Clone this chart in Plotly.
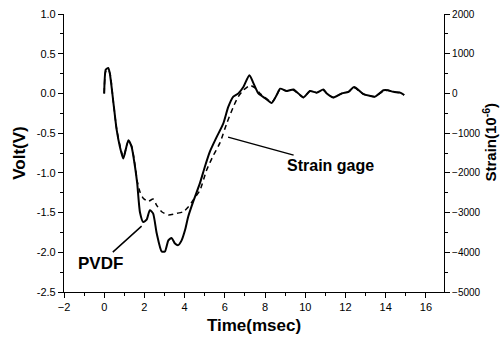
import plotly.graph_objects as go

# PVDF sensor output (Volt)
pvdf_t = [0.0, 0.08, 0.2, 0.28, 0.45, 0.62, 0.78, 0.95, 1.2, 1.36, 1.53, 1.64, 1.78, 1.94, 2.11, 2.27,
          2.43, 2.61, 2.86, 3.02, 3.19, 3.35, 3.52, 3.68, 3.85, 4.02, 4.18, 4.43, 4.76, 5.01, 5.26,
          5.59, 5.92, 6.17, 6.42, 6.67, 6.92, 7.22, 7.42, 7.67, 8.0, 8.33, 8.58, 8.75, 9.08, 9.41,
          9.74, 9.91, 10.24, 10.57, 10.9, 11.07, 11.4, 11.82, 12.15, 12.43, 12.9, 13.2, 13.47,
          13.89, 14.1, 14.38, 14.72, 14.92]
pvdf_v = [0.0, 0.30, 0.32, 0.25, -0.10, -0.46, -0.67, -0.82, -0.59, -0.67, -0.92, -1.13, -1.50, -1.62,
          -1.59, -1.47, -1.51, -1.76, -1.99, -1.99, -1.85, -1.82, -1.89, -1.91, -1.85, -1.72, -1.55,
          -1.36, -1.13, -0.92, -0.73, -0.55, -0.38, -0.17, -0.04, 0.0, 0.08, 0.23, 0.13, 0.0, -0.06,
          -0.12, -0.02, 0.06, 0.03, 0.05, -0.02, -0.05, 0.03, 0.01, 0.05, 0.0, -0.05, 0.0, 0.02,
          0.08, -0.01, -0.03, -0.04, 0.04, 0.04, 0.02, 0.01, -0.02]

# Strain gage (micro-strain)
gage_t = [0.0, 0.08, 0.2, 0.3, 0.45, 0.62, 0.78, 0.95, 1.2, 1.36, 1.53, 1.64, 1.78, 1.94, 2.19, 2.43,
          2.61, 2.86, 3.19, 3.6, 3.93, 4.18, 4.43, 4.76, 5.1, 5.43, 5.76, 6.09, 6.42, 6.67, 6.92,
          7.25, 7.5, 7.75, 8.0, 8.33, 8.58, 8.75, 9.08, 9.41, 9.74, 9.91, 10.24, 10.57, 10.9,
          11.07, 11.4, 11.82, 12.15, 12.43, 12.9, 13.2, 13.47, 13.89, 14.1, 14.38, 14.72, 14.92]
gage_s = [0, 560, 600, 480, -200, -900, -1300, -1600, -1200, -1320, -1800, -2200, -2480, -2640,
          -2720, -2660, -2820, -2980, -3060, -3020, -2980, -2860, -2680, -2440, -1920, -1560,
          -1240, -760, -340, -80, 80, 200, 140, 0, -100, -220, -40, 100, 60, 80, -40, -100, 60,
          20, 80, 0, -100, 0, 40, 140, -20, -60, -80, 60, 80, 40, 20, -40]

y_ticks = [1.0, 0.5, 0.0, -0.5, -1.0, -1.5, -2.0, -2.5]
y_ticktext = ["1.0", "0.5", "0.0", "-0.5", "-1.0", "-1.5", "-2.0", "-2.5"]
y2_ticks = [2000, 1000, 0, -1000, -2000, -3000, -4000, -5000]
x_ticks = [-2, 0, 2, 4, 6, 8, 10, 12, 14, 16]

FONT = "Liberation Sans, Arial, sans-serif"

fig = go.Figure()
fig.add_trace(go.Scatter(x=pvdf_t, y=pvdf_v, mode="lines",
                         line=dict(color="black", width=2, shape="spline", smoothing=0.6),
                         name="PVDF", yaxis="y"))
fig.add_trace(go.Scatter(x=gage_t, y=gage_s, mode="lines",
                         line=dict(color="black", width=1.5, dash="5px,4px", shape="spline", smoothing=0.6),
                         name="Strain gage", yaxis="y2"))

axis_common = dict(showgrid=False, zeroline=False, showline=True, linecolor="black", linewidth=1.2,
                   ticks="outside", ticklen=5, tickcolor="black", tickwidth=1, automargin=False)

fig.update_layout(
    width=502, height=345,
    margin=dict(l=64, r=58, t=14, b=53),
    paper_bgcolor="white", plot_bgcolor="white",
    showlegend=False,
    xaxis=dict(range=[-2, 16.9], tickvals=x_ticks,
               tickfont=dict(family=FONT, size=11, color="black"),
               minor=dict(ticks="outside", ticklen=3, dtick=1, tick0=-2, tickcolor="black"),
               title=dict(text="<b>Time(msec)</b>", font=dict(family=FONT, size=17, color="black"), standoff=6),
               **axis_common),
    yaxis=dict(range=[-2.5, 1.0], tickvals=y_ticks, ticktext=y_ticktext,
               tickfont=dict(family=FONT, size=11, color="black"),
               minor=dict(ticks="outside", ticklen=3, dtick=0.25, tick0=0, tickcolor="black"),
               title=dict(text="<b>Volt(V)</b>", font=dict(family=FONT, size=17, color="black"), standoff=6),
               **axis_common),
    yaxis2=dict(range=[-5000, 2000], tickvals=y2_ticks, overlaying="y", side="right",
                tickfont=dict(family=FONT, size=10, color="black"),
                minor=dict(ticks="outside", ticklen=3, dtick=500, tick0=0, tickcolor="black"),
                **axis_common),
)

# right axis title placed explicitly so it stays inside the canvas
fig.add_annotation(xref="paper", yref="paper", x=1.12, y=0.54, text="<b>Strain(10<sup>-6</sup>)</b>",
                   textangle=-90, showarrow=False, xanchor="center", yanchor="middle",
                   font=dict(family=FONT, size=15, color="black"))

fig.add_annotation(x=6.16, y=-0.55, xref="x", yref="y", text="<b>Strain gage</b>",
                   showarrow=True, arrowhead=0, arrowwidth=1.5, arrowcolor="black",
                   ax=102, ay=28, font=dict(family=FONT, size=16, color="black"))
fig.add_annotation(x=1.86, y=-1.67, xref="x", yref="y", text="<b>PVDF</b>",
                   showarrow=True, arrowhead=0, arrowwidth=1.5, arrowcolor="black",
                   ax=-41, ay=37, font=dict(family=FONT, size=17, color="black"))

fig.write_html("out.html")
